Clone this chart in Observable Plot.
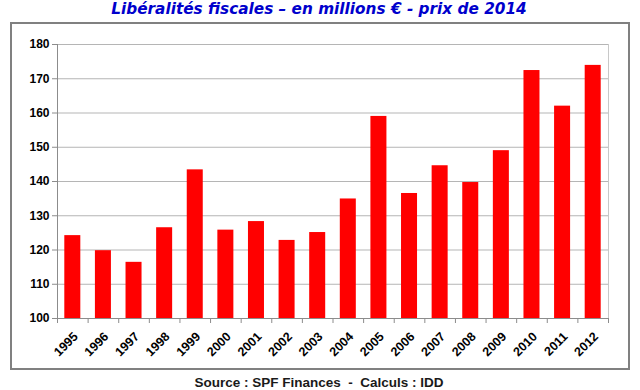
<!DOCTYPE html>
<html><head><meta charset="utf-8">
<script src="https://cdn.jsdelivr.net/npm/d3@7"></script>
<script src="https://cdn.jsdelivr.net/npm/@observablehq/plot@0.6"></script>
<style>
html,body{margin:0;padding:0;background:#fff;width:640px;height:390px;overflow:hidden;position:relative;}
#title{position:absolute;left:0;top:2px;width:638px;text-align:center;font:italic bold 15.3px/15px "DejaVu Sans",Verdana,sans-serif;color:#0000cc;white-space:nowrap;}
#box{position:absolute;left:10px;top:22px;width:616px;height:344px;border:2px solid #808080;background:#fff;}
#box svg{display:block;}
#caption{position:absolute;left:0;top:376px;width:638px;text-align:center;font:bold 13.5px/14px "Liberation Sans",Arial,sans-serif;color:#1a1a1a;white-space:pre;}
</style></head>
<body>
<div id="title">Libéralités fiscales – en millions € - prix de 2014</div>
<div id="box"></div>
<div id="caption">Source : SPF Finances  -  Calculs : IDD</div>
<script>
const years = [1995,1996,1997,1998,1999,2000,2001,2002,2003,2004,2005,2006,2007,2008,2009,2010,2011,2012];
const values = [124.2,119.8,116.4,126.5,143.4,125.8,128.3,122.8,125.1,134.9,159.0,136.5,144.6,139.7,149.0,172.4,162.0,173.9];
const yTicks = [100,110,120,130,140,150,160,170,180];

const data = years.map((year, i) => ({year, value: values[i]}));
const boundaries = [...years.map(y => y - 0.5), years[years.length - 1] + 0.5];

const chart = Plot.plot({
  width: 616, height: 344,
  marginLeft: 45, marginRight: 20, marginTop: 20, marginBottom: 50,
  style: {fontFamily: "'Liberation Sans', Arial, sans-serif", background: "white", overflow: "visible"},
  x: {type: "linear", domain: [boundaries[0], boundaries[boundaries.length - 1]]},
  y: {domain: [yTicks[0], yTicks[yTicks.length - 1]]},
  marks: [
    Plot.gridY(yTicks, {stroke: "#b5b5b5", strokeOpacity: 1}),
    Plot.frame({anchor: "right", stroke: "#c8c8c8"}),
    Plot.rectY(data, {x1: d => d.year - 0.5, x2: d => d.year + 0.5, y1: yTicks[0], y2: "value", fill: "#ff0000", insetLeft: 7.3, insetRight: 7.3}),
    Plot.frame({anchor: "left", stroke: "#8c8c8c"}),
    Plot.frame({anchor: "bottom", stroke: "#8c8c8c"}),
    Plot.axisY(yTicks, {tickSize: 5, tickPadding: 3, fontSize: 12, fontWeight: "bold", fill: "black", stroke: "#8c8c8c", label: null}),
    Plot.axisX(boundaries, {tickSize: 5, tickFormat: () => "", stroke: "#8c8c8c", label: null}),
    Plot.axisX(years, {tickSize: 0, tickPadding: 16, tickFormat: d => String(d), tickRotate: -45, fontSize: 12.5, fontWeight: "bold", fill: "black", label: null, dx: 3})
  ]
});
document.getElementById("box").appendChild(chart);
</script>
</body></html>
